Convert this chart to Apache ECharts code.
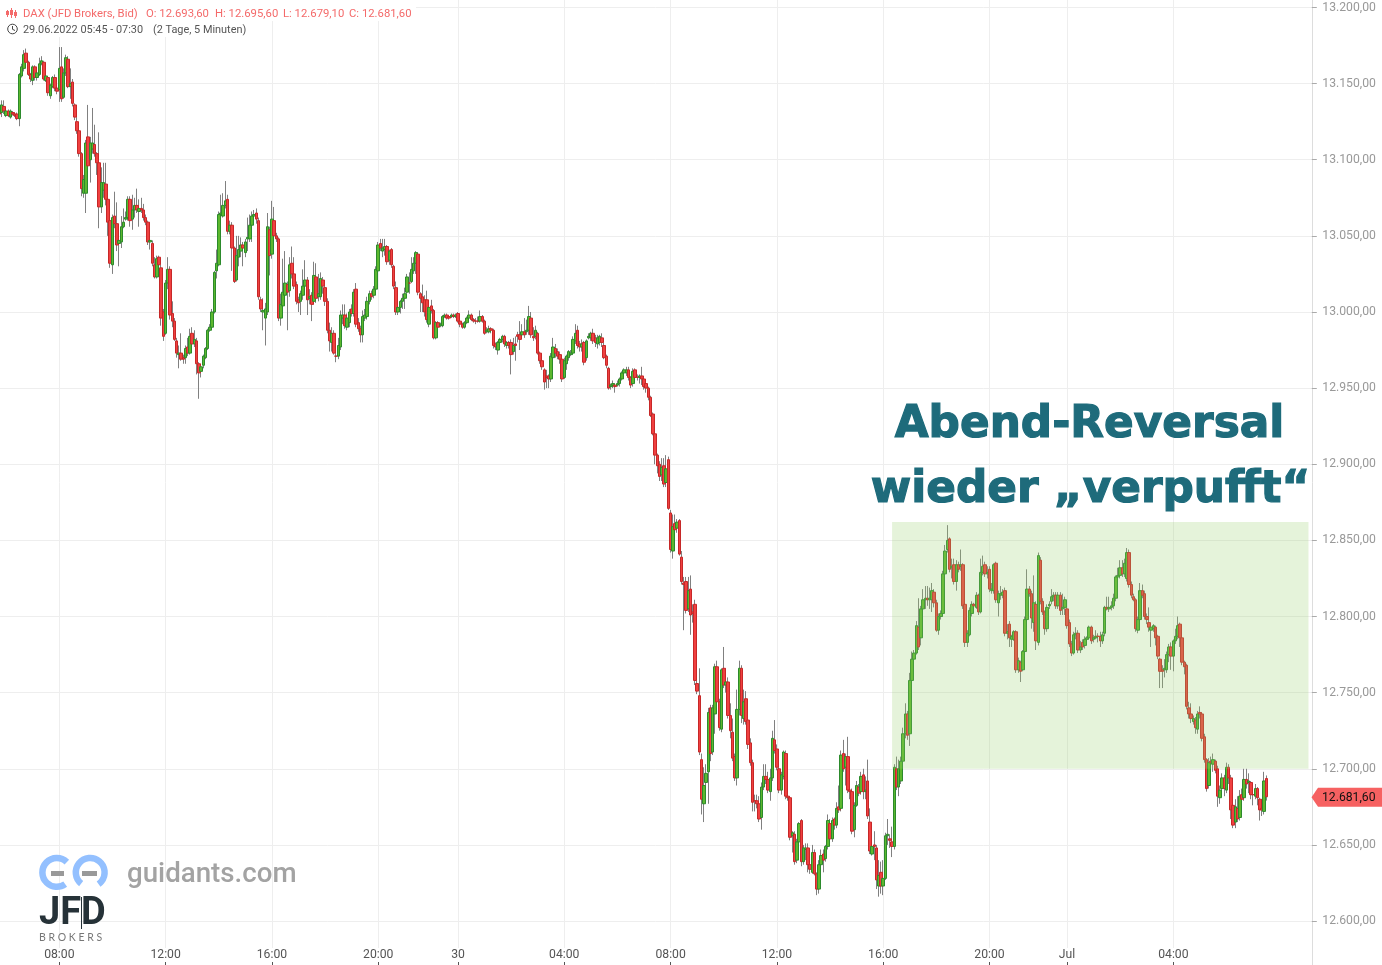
<!DOCTYPE html>
<html><head><meta charset="utf-8">
<style>html,body{margin:0;padding:0;background:#fff;overflow:hidden}#c{width:1382px;height:965px}</style>
<script src="https://cdn.jsdelivr.net/npm/echarts@6/dist/echarts.min.js"></script>
</head><body><div id="c"></div>
<script>
// rows: [open, close, low, high]
const barsMorning1 = [
[13132,13130,13127,13134],[13131,13136,13128,13139],[13135,13132,13130,13139],[13129,13132,13128,13134],[13132,13129,13128,13133],[13128,13132,13127,13133],[13131,13130,13129,13132],[13130,13129,13128,13131],[13130,13127,13126,13131],[13127,13156,13122,13157],
[13155,13161,13154,13163],[13160,13169,13158,13172],[13170,13164,13163,13173],[13164,13156,13155,13165],[13156,13153,13151,13157],[13152,13161,13149,13162],[13161,13154,13152,13162],[13154,13157,13152,13159],[13156,13163,13155,13167],[13163,13165,13162,13168],
[13164,13153,13152,13165],[13152,13155,13151,13158],[13154,13144,13142,13155],[13142,13149,13140,13150],[13148,13154,13147,13155],[13154,13147,13145,13156],[13147,13145,13143,13149],[13146,13160,13138,13174],[13161,13140,13138,13174],[13141,13157,13140,13160],
[13157,13167,13155,13169],[13166,13148,13147,13168],[13148,13150,13140,13160],[13151,13137,13135,13153],[13136,13128,13126,13137],[13125,13119,13117,13128],[13119,13104,13102,13121],[13104,13081,13076,13105],[13078,13087,13075,13090],[13078,13111,13065,13113],
[13115,13096,13090,13136],[13100,13111,13085,13115],[13107,13111,13104,13134],[13110,13104,13102,13123],[13104,13098,13090,13105],[13098,13069,13055,13118],[13069,13085,13065,13095],[13080,13085,13075,13098],[13084,13074,13070,13098],[13074,13059,13050,13076],
[13060,13032,13029,13062],[13031,13062,13025,13064],[13063,13058,13055,13079],[13058,13044,13040,13072]];
const barsMidday1 = [
[13045,13047,13030,13052],[13046,13056,13042,13063],[13056,13059,13055,13068],[13061,13062,13060,13066],[13062,13074,13060,13076],[13074,13060,13056,13076],[13061,13067,13054,13077],[13067,13070,13062,13075],[13070,13067,13065,13081],[13066,13068,13056,13074],
[13068,13067,13065,13075],[13067,13062,13060,13071],[13062,13059,13057,13064],[13059,13046,13044,13060],[13046,13047,13041,13054],[13045,13032,13030,13047],[13031,13023,13022,13036],[13023,13035,13022,13037],[13036,13031,13029,13037],[13029,12996,12991,13031],
[13000,12984,12981,13002],[12986,13019,12985,13021],[13019,13028,13015,13036],[13028,12998,12995,13030],[12999,12994,12990,13007],[12994,12982,12981,12996],[12981,12973,12970,12983],[12972,12973,12963,12978],[12973,12969,12968,12986],[12970,12969,12966,12972],
[12970,12976,12966,12978],[12977,12973,12971,12983],[12973,12984,12972,12989],[12986,12979,12977,12990],[12979,12982,12977,12988],[12981,12966,12959,12983],[12966,12960,12943,12967],[12961,12964,12957,12965],[12965,12971,12963,12972],[12970,12976,12969,12977],
[12976,12988,12975,12989],[12988,12990,12987,12992],[12990,13000,12989,13002],[13000,13026,12999,13027],[13027,13032,13022,13041],[13031,13064,13030,13066],[13064,13065,13060,13077],[13063,13070,13062,13078],[13070,13073,13068,13086],[13074,13053,13051,13077]];
const barsAfternoon1 = [
[13053,13057,13051,13060],[13057,13042,13027,13059],[13042,13020,13019,13043],[13021,13037,13020,13050],[13036,13041,13030,13050],[13040,13044,13036,13049],[13044,13042,13030,13046],[13039,13046,13036,13048],[13048,13049,13040,13062],[13048,13057,13046,13064],
[13057,13063,13046,13066],[13063,13064,13060,13067],[13065,13061,13058,13068],[13060,13010,13008,13062],[13008,13002,13000,13010],[13000,13001,12988,13009],[12996,13002,12978,13006],[13000,13056,12998,13065],[13054,13037,13024,13056],[13038,13061,13035,13073],
[13060,13050,13045,13069],[13050,13048,13046,13052],[13048,12996,12994,13049],[12996,13005,12991,13012],[13004,13013,13000,13035],[13011,13019,13006,13040],[13018,13013,12988,13020],[13014,13031,13010,13036],[13032,13025,13022,13043],[13025,13017,13015,13036],
[13018,13007,13005,13020],[13008,13006,13000,13010],[13007,13012,12998,13014],[13011,13017,13008,13028],[13017,13021,13014,13034],[13021,13008,12998,13023],[13009,13010,13005,13015],[13011,13005,12994,13013],[13007,13024,13005,13033],[13023,13009,13006,13032],
[13010,13012,13007,13025],[13010,13022,13008,13026],[13021,13017,13012,13023],[13016,13007,13004,13018],[13007,12988,12986,13009],[12988,12981,12974,12993],[12980,12986,12974,12990],[12986,12973,12972,12988],[12971,12971,12967,12974],[12971,12978,12969,12983]];
const barsEvening1 = [
[12977,12998,12975,13001],[12996,12998,12992,13005],[12998,12991,12989,13005],[12990,12996,12988,12999],[12993,13000,12990,13002],[13002,12999,12997,13005],[12999,13013,12997,13015],[13015,12992,12990,13019],[12993,12989,12987,12996],[12989,12985,12980,12991],
[12985,12997,12980,13001],[12996,12998,12994,13002],[12997,13007,12995,13010],[13007,13012,13005,13014],[13012,13010,13008,13014],[13011,13015,13009,13017],[13015,13028,13014,13030],[13027,13044,13025,13046],[13045,13042,13040,13048],[13040,13042,13036,13048],
[13041,13043,13037,13048],[13043,13033,13031,13044],[13034,13040,13031,13041],[13041,13031,13029,13042],[13030,13017,13015,13031],[13016,13000,12998,13020],[13000,13003,12998,13004],[13003,13007,12999,13008],[13007,13009,13002,13012],[13009,13012,13002,13016],
[13013,13023,13012,13025],[13019,13019,13012,13026],[13020,13028,13019,13036],[13027,13032,13025,13036],[13032,13039,13025,13040],[13038,13013,13011,13039],[13012,13009,13000,13013],[13010,13006,13000,13018],[13008,13000,12997,13011],[13008,12995,12993,13014],
[12992,13003,12990,13005],[13004,13001,12999,13008],[13001,12983,12982,13002]];
const barsNight = [
[12983,12993,12982,12994],[12993,12990,12989,12994],[12991,12992,12990,12993],[12991,12997,12990,12998],[12997,12998,12996,12999],[12998,12996,12995,12999],[12997,12996,12995,12998],[12997,12998,12996,12999],[12998,12997,12996,12999],[12997,12998,12996,12999],
[12999,12994,12993,13000],[12994,12992,12990,12995],[12992,12990,12989,12993],[12990,12993,12989,12994],[12993,12996,12992,12997],[12996,12998,12995,13001],[12998,12995,12994,12999],[12995,12994,12993,12996],[12994,12994,12992,12996],[12994,12994,12993,12997],
[12994,12997,12993,13001],[12997,12994,12993,12998],[12994,12986,12985,12995],[12987,12988,12986,12990],[12987,12989,12986,12991],[12989,12988,12986,12990],[12988,12978,12976,12989],[12979,12977,12975,12980],[12975,12980,12972,12981],[12980,12982,12979,12983],
[12982,12984,12980,12985],[12984,12979,12977,12985],[12978,12980,12976,12981],[12980,12978,12976,12981],[12980,12972,12959,12982],[12974,12978,12972,12983],[12979,12978,12968,12984],[12985,12984,12980,12987],[12985,12982,12975,12994],[12985,12987,12983,12992],
[12987,12985,12983,12996],[12987,12988,12985,12995],[12988,12997,12985,13004],[12996,12985,12983,13000],[12984,12983,12981,12990],[12984,12988,12982,12991],[12986,12973,12972,12987],[12973,12968,12966,12974],[12968,12964,12962,12969],[12962,12954,12949,12963],
[12958,12957,12950,12962],[12958,12956,12950,12959],[12956,12971,12954,12973],[12970,12977,12968,12983],[12976,12973,12970,12979],[12974,12971,12969,12976],[12972,12969,12966,12974],[12969,12956,12954,12970],[12957,12968,12956,12970],[12966,12971,12962,12972],
[12970,12974,12968,12975],[12972,12973,12971,12975],[12973,12982,12972,12984],[12981,12986,12979,12992],[12988,12978,12976,12991],[12979,12977,12974,12981],[12977,12979,12974,12982],[12980,12967,12965,12981],[12970,12981,12968,12982],[12983,12984,12982,12986],
[12983,12986,12981,12987],[12986,12981,12979,12989],[12983,12980,12977,12985],[12979,12983,12976,12985],[12980,12984,12978,12985],[12983,12980,12977,12986],[12978,12970,12969,12980],[12971,12965,12963,12972],[12963,12950,12949,12964],[12951,12952,12949,12953],
[12952,12953,12950,12955],[12952,12951,12947,12953],[12952,12953,12951,12955],[12953,12956,12951,12957],[12956,12960,12955,12961],[12960,12962,12957,12963],[12960,12962,12958,12964],[12962,12957,12955,12964],[12957,12952,12950,12958],[12953,12961,12951,12963],
[12962,12957,12956,12963],[12957,12957,12955,12959],[12957,12958,12953,12959],[12958,12956,12952,12964],[12956,12951,12949,12957],[12953,12950,12947,12954],[12950,12944,12942,12951],[12944,12932,12931,12945],[12933,12920,12919,12934],[12920,12906,12900,12921]];
const barsMorning2 = [
[12906,12899,12894,12907],[12900,12892,12889,12902],[12893,12898,12889,12904],[12899,12887,12885,12904],[12888,12897,12885,12906],[12903,12871,12870,12905],[12868,12844,12842,12870],[12843,12859,12838,12867],[12861,12857,12855,12867],[12858,12862,12855,12864],
[12863,12841,12840,12864],[12839,12823,12821,12843],[12822,12821,12791,12826],[12823,12804,12802,12826],[12805,12817,12803,12826],[12818,12801,12788,12827],[12803,12802,12796,12808],[12808,12758,12755,12811],[12756,12751,12749,12763],[12748,12711,12709,12766],
[12706,12680,12670,12710],[12677,12689,12665,12701],[12691,12697,12685,12703],[12698,12737,12677,12740],[12740,12710,12705,12742],[12711,12740,12709,12742],[12736,12767,12723,12769],[12767,12744,12740,12771],[12744,12727,12725,12746],[12726,12765,12724,12766],
[12766,12755,12753,12780],[12755,12757,12750,12766],[12757,12735,12733,12760],[12735,12725,12720,12743],[12724,12707,12705,12733],[12708,12694,12692,12710],[12694,12739,12689,12752],[12739,12766,12735,12771],[12766,12735,12730,12768],[12733,12744,12729,12752],
[12746,12731,12729,12751],[12732,12716,12713,12739],[12717,12704,12702,12720],[12704,12678,12672,12706],[12679,12679,12672,12683],[12679,12677,12674,12683],[12677,12667,12665,12682],[12668,12688,12660,12691],[12688,12695,12686,12703],[12695,12693,12690,12703]];
const barsMidday2 = [
[12693,12686,12684,12698],[12685,12694,12679,12700],[12694,12720,12692,12725],[12719,12712,12710,12732],[12713,12701,12699,12716],[12700,12686,12684,12702],[12686,12696,12683,12698],[12695,12711,12693,12712],[12710,12682,12680,12712],[12682,12681,12679,12684],
[12681,12655,12653,12682],[12656,12658,12645,12659],[12657,12639,12637,12659],[12640,12652,12638,12654],[12652,12664,12650,12665],[12666,12639,12636,12667],[12639,12648,12637,12650],[12647,12648,12640,12651],[12648,12637,12632,12651],[12637,12634,12631,12641],
[12632,12645,12631,12650],[12645,12631,12630,12647],[12631,12621,12617,12632],[12621,12637,12618,12640],[12637,12643,12632,12647],[12644,12640,12632,12647],[12641,12649,12639,12650],[12649,12666,12647,12670],[12664,12654,12652,12667],[12654,12666,12652,12668],
[12667,12663,12660,12668],[12663,12674,12661,12678],[12675,12673,12671,12689],[12674,12709,12672,12712],[12710,12700,12698,12719],[12701,12708,12689,12710],[12708,12686,12684,12721],[12686,12685,12680,12688],[12685,12659,12657,12687],[12660,12676,12655,12678],
[12676,12689,12675,12692],[12688,12684,12682,12690],[12685,12695,12683,12698],[12696,12685,12680,12700],[12685,12686,12680,12695],[12692,12669,12667,12706],[12665,12646,12644,12674],[12644,12649,12643,12652],[12650,12649,12640,12659],[12648,12627,12621,12650],
[12623,12630,12616,12640],[12632,12623,12618,12639],[12623,12628,12617,12640],[12628,12656,12627,12658],[12656,12657,12650,12667],[12654,12653,12648,12657],[12652,12649,12642,12662]];
const barsReversal = [
[12649,12701,12647,12703],[12700,12688,12686,12708],[12688,12700,12682,12706],[12692,12705,12690,12708],[12705,12723,12703,12727],[12723,12736,12720,12743],[12736,12722,12719,12738],
[12723,12758,12715,12763],[12758,12772,12756,12777],[12772,12776,12770,12778],[12776,12794,12775,12797],[12793,12780,12778,12812],[12786,12805,12781,12807],[12805,12811,12803,12818],[12811,12812,12805,12820],[12812,12811,12807,12820],[12811,12812,12805,12819],
[12811,12817,12803,12822],[12816,12809,12806,12818],[12809,12791,12790,12811],[12791,12800,12788,12802],[12800,12802,12798,12804],[12802,12828,12800,12830],[12828,12843,12826,12847],[12844,12850,12842,12860],[12851,12831,12829,12852],[12832,12833,12825,12838],
[12834,12823,12821,12838],[12823,12834,12817,12837],[12834,12831,12829,12836],[12833,12834,12830,12844],[12834,12807,12805,12835],[12808,12783,12780,12810],[12783,12789,12780,12791],[12788,12804,12787,12806],[12802,12808,12800,12810],[12808,12807,12805,12809],
[12806,12814,12805,12816],[12814,12803,12801,12815],[12803,12829,12802,12838],[12829,12833,12827,12840],[12834,12828,12826,12836],[12828,12829,12825,12833],[12831,12818,12816,12833],[12817,12818,12815,12822],[12817,12834,12815,12835],[12835,12811,12809,12836]];
const barsLateEvening2 = [
[12809,12815,12800,12817],[12814,12815,12811,12820],[12814,12816,12812,12818],[12817,12789,12787,12819],[12789,12790,12785,12795],[12795,12786,12780,12797],[12785,12787,12780,12788],[12785,12790,12784,12791],[12790,12765,12763,12791],[12765,12771,12763,12773],
[12770,12764,12757,12771],[12765,12777,12764,12778],[12777,12798,12775,12800],[12798,12818,12796,12831],[12818,12815,12813,12820],[12815,12799,12792,12817],[12796,12809,12790,12827],[12808,12784,12778,12810],[12783,12840,12781,12842],[12837,12810,12808,12839],
[12810,12803,12801,12812],[12803,12792,12788,12804],[12792,12806,12790,12808],[12807,12808,12805,12810],[12810,12813,12808,12818],[12813,12814,12810,12816],[12814,12807,12805,12816],[12807,12814,12805,12816],[12814,12804,12801,12816],[12805,12806,12801,12815],
[12806,12811,12801,12813],[12805,12794,12792,12807],[12796,12782,12780,12798],[12782,12776,12774,12784],[12776,12788,12775,12790],[12788,12789,12785,12793],[12789,12778,12776,12791],[12778,12780,12776,12784],[12783,12780,12778,12785],[12781,12785,12779,12787],
[12785,12786,12784,12787],[12786,12793,12785,12794],[12793,12784,12782,12794],[12785,12786,12783,12788],[12786,12787,12785,12791],[12787,12787,12783,12789],[12787,12784,12780,12790],[12784,12788,12782,12790],[12789,12806,12787,12807],[12806,12805,12804,12813]];
const barsDay3 = [
[12805,12806,12803,12813],[12806,12807,12804,12810],[12807,12812,12805,12815],[12812,12826,12810,12827],[12826,12827,12824,12832],[12827,12832,12825,12837],[12832,12828,12826,12837],[12828,12835,12826,12838],[12825,12842,12823,12845],[12842,12821,12819,12844],
[12821,12814,12812,12823],[12813,12811,12810,12815],[12811,12792,12790,12812],[12791,12798,12789,12800],[12798,12817,12796,12822],[12817,12814,12812,12821],[12815,12800,12798,12817],[12800,12798,12795,12802],[12796,12793,12790,12806],[12791,12793,12780,12794],
[12792,12794,12790,12795],[12793,12786,12781,12794],[12787,12774,12772,12788],[12772,12764,12753,12773],[12765,12764,12753,12768],[12765,12766,12760,12772],[12765,12775,12763,12777],[12775,12780,12770,12782],[12780,12774,12765,12783],[12774,12784,12764,12785],
[12784,12787,12782,12792],[12787,12794,12785,12800],[12795,12786,12780,12796],[12786,12770,12768,12787],[12770,12767,12762,12771],[12768,12741,12739,12769],[12740,12736,12733,12744],[12736,12733,12730,12743],[12731,12733,12729,12735],[12732,12727,12723,12734],
[12726,12736,12723,12738],[12737,12736,12733,12741],[12736,12720,12718,12737],[12721,12706,12704,12723],[12706,12687,12685,12707],[12689,12704,12687,12707],[12705,12704,12700,12708],[12703,12706,12698,12710],[12705,12699,12697,12706],[12700,12682,12675,12702],
[12681,12686,12677,12689],[12687,12694,12685,12697],[12694,12687,12682,12696],[12686,12701,12684,12704],[12701,12694,12690,12703],[12694,12673,12667,12696],[12676,12663,12661,12680],[12665,12675,12661,12680],[12674,12667,12665,12682],[12668,12682,12666,12686],
[12683,12680,12678,12687],[12681,12693,12679,12700],[12693,12690,12687,12700],[12691,12692,12684,12697],[12691,12683,12680,12692],[12683,12683,12676,12685],[12682,12687,12680,12690],[12687,12681,12676,12688],[12680,12673,12666,12681],[12674,12673,12669,12680],
[12672,12692,12670,12698],[12693.6,12681.6,12679.1,12695.6]];

const tickBarIndex = [27,75,123,171,207,255,303,351,399,447,482,530];
const tickLabels = ['08:00','12:00','16:00','20:00','30','04:00','08:00','12:00','16:00','20:00','Jul','04:00'];
const slotCount = 593;
const lastPrice = 12681.6;
const zoneLow = 12700, zoneHigh = 12862, zoneFirstBar = 403, zoneLastBar = 591;

const bars = [].concat(barsMorning1, barsMidday1, barsAfternoon1, barsEvening1, barsNight, barsMorning2, barsMidday2, barsReversal, barsLateEvening2, barsDay3);
const categories = Array.from({length: slotCount}, (_, i) => String(i));
const tickMap = {}; tickBarIndex.forEach((b, i) => { tickMap[b] = tickLabels[i]; });
const isTick = (i) => tickMap[i] !== undefined;
const fmt = (v) => { const s = Number(v).toFixed(2).replace('.', ','); return s.replace(/^(\d+)(\d{3}),/, '$1.$2,'); };
const FONT = 'Roboto, sans-serif';

const chart = echarts.init(document.getElementById('c'), null, {renderer: 'canvas'});
const GREEN = '#5cb82e', GREEN_B = '#2c8a2c', RED = '#f04040', RED_B = '#c62828', WICK = '#808080';
chart.setOption({
  animation: false,
  backgroundColor: '#fff',
  grid: {left: -1.6, width: 1313.4, top: -68.67, height: 1065.84, containLabel: false, outerBoundsMode: 'none'},
  xAxis: {
    type: 'category', data: categories, boundaryGap: true, offset: -32.17,
    axisLine: {show: false},
    axisTick: {show: true, inside: true, length: 4, alignWithLabel: true, interval: (i) => isTick(i), lineStyle: {color: '#555', width: 1}},
    axisLabel: {show: true, inside: true, margin: 3, interval: (i) => isTick(i), formatter: (v, i) => tickMap[i] || '',
      fontFamily: FONT, fontSize: 12.2, color: '#555', backgroundColor: '#fff', padding: [1, 2, 1, 2], hideOverlap: false, showMinLabel: true, showMaxLabel: true},
    splitLine: {show: true, alignWithLabel: true, interval: (i) => isTick(i), lineStyle: {color: '#eeeeee', width: 1}}
  },
  yAxis: {
    type: 'value', position: 'right', min: 12550, max: 13250, interval: 50, scale: true,
    axisLine: {show: true, onZero: false, lineStyle: {color: '#dddddd', width: 1}},
    axisTick: {show: true, length: 5, lineStyle: {color: '#aaaaaa'}},
    axisLabel: {margin: 10.5, fontFamily: FONT, fontSize: 12.2, color: '#999999', formatter: fmt, padding: [2, 0, 0, 0]},
    splitLine: {show: true, lineStyle: {color: '#eeeeee', width: 1}}
  },
  series: [
    {name: 'wick', type: 'candlestick', z: 2, barWidth: 1, large: false, progressive: 0, silent: true,
     data: bars.map(r => r.slice()),
     itemStyle: {color: WICK, color0: WICK, borderColor: WICK, borderColor0: WICK, borderColorDoji: WICK, borderWidth: 1}},
    {name: 'body', type: 'candlestick', z: 3, barWidth: 3, large: false, progressive: 0, silent: true,
     data: bars.map(r => [r[0], r[1], Math.min(r[0], r[1]), Math.max(r[0], r[1])]),
     itemStyle: {color: GREEN, color0: RED, borderColor: GREEN_B, borderColor0: RED_B, borderColorDoji: RED_B, borderWidth: 1},
     markArea: {silent: true, z: 10, itemStyle: {color: 'rgba(151,207,107,0.25)'}, label: {show: false},
       data: [[{xAxis: zoneFirstBar, yAxis: zoneHigh}, {xAxis: zoneLastBar, yAxis: zoneLow}]]}}
  ]
});

const lastY = chart.convertToPixel({yAxisIndex: 0}, lastPrice);
const hdr = '#f46a6a';
const T = (x, y, text, font, fill, align) => ({type: 'text', x, y, z: 100, style: {text, font, fill, textVerticalAlign: 'middle', textAlign: align || 'left'}});
const R = (x, y, w, h, fill) => ({type: 'rect', z: 99, shape: {x, y, width: w, height: h}, style: {fill}});
const f11 = '11.3px Roboto, sans-serif', f2 = '10.9px Roboto, sans-serif';
const headFont = 'bold 43.8px "DejaVu Sans", sans-serif';
const headColor = '#1e6b7b';
chart.setOption({graphic: {elements: [
  R(0, 0, 416, 21, '#fff'), R(0, 21, 248, 16, '#fff'),
  R(7, 10, 1, 7, hdr), R(6, 11, 3, 4, hdr), R(11, 8, 1, 10, hdr), R(10, 10, 3, 5, hdr), R(15, 10, 1, 8, hdr), R(14, 12, 3, 4, hdr),
  T(23, 14, 'DAX (JFD Brokers, Bid)', f11, hdr),
  T(146, 14, 'O: 12.693,60', f11, hdr), T(215, 14, 'H: 12.695,60', f11, hdr), T(283, 14, 'L: 12.679,10', f11, hdr), T(349, 14, 'C: 12.681,60', f11, hdr),
  {type: 'circle', z: 100, shape: {cx: 12.5, cy: 29, r: 4.8}, style: {fill: 'none', stroke: '#444', lineWidth: 1}},
  {type: 'polyline', z: 100, shape: {points: [[12.5, 26], [12.5, 29.3], [15, 30.5]]}, style: {fill: 'none', stroke: '#444', lineWidth: 1}},
  T(23, 30, '29.06.2022 05:45 - 07:30', f2, '#555'), T(153, 30, '(2 Tage, 5 Minuten)', f2, '#555'),
  {type: 'text', x: 1089.5, y: 425.5, z: 100, style: {text: 'Abend-Reversal', font: headFont, fill: headColor, stroke: headColor, lineWidth: 1.2, textAlign: 'center', textVerticalAlign: 'middle'}},
  {type: 'text', x: 1090.5, y: 490.5, z: 100, style: {text: 'wieder „verpufft“', font: headFont, fill: headColor, stroke: headColor, lineWidth: 1.2, textAlign: 'center', textVerticalAlign: 'middle'}},
  {type: 'polygon', z: 100, shape: {points: [[1311.5, lastY + 0.5], [1318, lastY - 9], [1382, lastY - 9], [1382, lastY + 10], [1318, lastY + 10]]}, style: {fill: '#f66161'}},
  T(1322, lastY + 1.3, fmt(lastPrice), '12.2px Roboto, sans-serif', '#111'),
  {type: 'arc', z: 100, shape: {cx: 56.8, cy: 872.4, r: 14.4, startAngle: -0.8, endAngle: 0.95, clockwise: false}, style: {fill: 'none', stroke: '#93c0ff', lineWidth: 6.5}},
  {type: 'arc', z: 100, shape: {cx: 90.2, cy: 872.4, r: 14.4, startAngle: 2.25, endAngle: 0.95, clockwise: true}, style: {fill: 'none', stroke: '#93c0ff', lineWidth: 6.5}},
  R(51, 871, 13, 5, '#999'), R(82, 871, 15, 5, '#999'),
  T(39, 914.5, 'JFD', 'bold 38px Roboto, sans-serif', '#263238'),
  R(81, 897, 1, 32, '#263238'),
  T(39, 937.5, 'B R O K E R S', '10.5px Lato, sans-serif', '#777'),
  T(127, 875, 'guidants.com', '500 27.7px Roboto, sans-serif', '#a3a3a3')
]}});
</script></body></html>
